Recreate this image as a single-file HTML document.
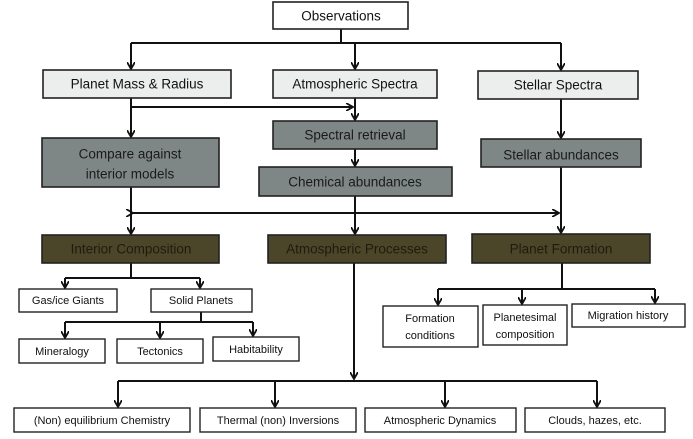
<!DOCTYPE html>
<html><head><meta charset="utf-8"><style>
html,body{margin:0;padding:0;background:#fff;}
svg{display:block;}
text{font-family:"Liberation Sans",sans-serif;text-anchor:middle;dominant-baseline:central;}
</style></head><body>
<svg width="693" height="439" viewBox="0 0 693 439" xmlns="http://www.w3.org/2000/svg">
<defs>
<marker id="a" markerWidth="8" markerHeight="8" refX="7" refY="4" orient="auto" markerUnits="userSpaceOnUse">
<path d="M0,0 L7,4 L0,8" fill="none" stroke="#111" stroke-width="1.8"/>
</marker>
</defs>
<g stroke="#111" stroke-width="2" fill="none">
<line x1="341" y1="29" x2="341" y2="43"/>
<path d="M131,43 H561"/>
<line x1="131" y1="43" x2="131" y2="69" marker-end="url(#a)"/>
<line x1="355" y1="43" x2="355" y2="69" marker-end="url(#a)"/>
<line x1="561" y1="43" x2="561" y2="70" marker-end="url(#a)"/>
<line x1="131" y1="98" x2="131" y2="137" marker-end="url(#a)"/>
<line x1="131" y1="107" x2="353" y2="107" marker-end="url(#a)"/>
<line x1="355" y1="98" x2="355" y2="120" marker-end="url(#a)"/>
<line x1="355" y1="149" x2="355" y2="166" marker-end="url(#a)"/>
<line x1="561" y1="99" x2="561" y2="138" marker-end="url(#a)"/>
<line x1="133" y1="213" x2="559" y2="213" marker-start="url(#a)" marker-end="url(#a)"/>
<line x1="131" y1="187" x2="131" y2="234" marker-end="url(#a)"/>
<line x1="355" y1="196" x2="355" y2="234" marker-end="url(#a)"/>
<line x1="561" y1="167" x2="561" y2="233" marker-end="url(#a)"/>
<line x1="131" y1="263" x2="131" y2="278"/>
<path d="M65,278 H200"/>
<line x1="65" y1="278" x2="65" y2="288" marker-end="url(#a)"/>
<line x1="200" y1="278" x2="200" y2="288" marker-end="url(#a)"/>
<line x1="201" y1="312" x2="201" y2="322"/>
<path d="M65,322 H253"/>
<line x1="65" y1="322" x2="65" y2="338" marker-end="url(#a)"/>
<line x1="160" y1="322" x2="160" y2="338" marker-end="url(#a)"/>
<line x1="253" y1="322" x2="253" y2="336" marker-end="url(#a)"/>
<line x1="562" y1="263" x2="562" y2="289"/>
<path d="M438,289 H655"/>
<line x1="438" y1="289" x2="438" y2="305" marker-end="url(#a)"/>
<line x1="522" y1="289" x2="522" y2="304" marker-end="url(#a)"/>
<line x1="655" y1="289" x2="655" y2="303" marker-end="url(#a)"/>
<line x1="354" y1="263" x2="354" y2="379" marker-end="url(#a)"/>
<path d="M118,381 H597"/>
<line x1="118" y1="381" x2="118" y2="407" marker-end="url(#a)"/>
<line x1="275" y1="381" x2="275" y2="407" marker-end="url(#a)"/>
<line x1="445" y1="381" x2="445" y2="407" marker-end="url(#a)"/>
<line x1="597" y1="381" x2="597" y2="407" marker-end="url(#a)"/>
</g>
<g stroke="#222" stroke-width="1.6">
<rect x="273" y="2" width="135" height="27" fill="#fff"/>
<rect x="43" y="70" width="188" height="28" fill="#eceeee"/>
<rect x="273" y="70" width="164" height="28" fill="#eceeee"/>
<rect x="478" y="71" width="160" height="28" fill="#eceeee"/>
<rect x="273" y="121" width="164" height="28" fill="#7f8786"/>
<rect x="42" y="138" width="177" height="49" fill="#7f8786"/>
<rect x="259" y="167" width="193" height="29" fill="#7f8786"/>
<rect x="481" y="139" width="160" height="28" fill="#7f8786"/>
<rect x="42" y="235" width="177" height="28" fill="#4b4529"/>
<rect x="268" y="235" width="178" height="28" fill="#4b4529"/>
<rect x="472" y="234" width="178" height="29" fill="#4b4529"/>
</g>
<g stroke="#222" stroke-width="1.4" fill="#fff">
<rect x="19" y="289" width="98" height="23"/>
<rect x="151" y="289" width="101" height="23"/>
<rect x="19" y="339" width="86" height="24"/>
<rect x="117" y="339" width="86" height="24"/>
<rect x="213" y="337" width="86" height="24"/>
<rect x="383" y="306" width="95" height="41"/>
<rect x="483" y="305" width="84" height="40"/>
<rect x="572" y="304" width="113" height="23"/>
<rect x="14" y="408" width="176" height="24"/>
<rect x="200" y="408" width="156" height="24"/>
<rect x="365" y="408" width="151" height="24"/>
<rect x="525" y="408" width="140" height="24"/>
</g>
<g font-size="13.5" fill="#111">
<text x="341" y="16">Observations</text>
<text x="137" y="84">Planet Mass &amp; Radius</text>
<text x="355" y="84">Atmospheric Spectra</text>
<text x="558" y="85">Stellar Spectra</text>
<text x="355" y="135" fill="#1a1a1a">Spectral retrieval</text>
<text x="130" y="154" fill="#1a1a1a">Compare against</text>
<text x="130" y="174" fill="#1a1a1a">interior models</text>
<text x="355" y="182" fill="#1a1a1a">Chemical abundances</text>
<text x="561" y="155" fill="#1a1a1a">Stellar abundances</text>
<text x="131" y="249" fill="#1e1c0c">Interior Composition</text>
<text x="357" y="249" fill="#1e1c0c">Atmospheric Processes</text>
<text x="561" y="249" fill="#1e1c0c">Planet Formation</text>
</g>
<g font-size="11" fill="#111">
<text x="68" y="301">Gas/ice Giants</text>
<text x="201" y="301">Solid Planets</text>
<text x="62" y="352">Mineralogy</text>
<text x="160" y="352">Tectonics</text>
<text x="256" y="350">Habitability</text>
<text x="430" y="319">Formation</text>
<text x="430" y="336">conditions</text>
<text x="525" y="318">Planetesimal</text>
<text x="525" y="335">composition</text>
<text x="628" y="316">Migration history</text>
<text x="102" y="421">(Non) equilibrium Chemistry</text>
<text x="278" y="421">Thermal (non) Inversions</text>
<text x="440" y="421">Atmospheric Dynamics</text>
<text x="595" y="421">Clouds, hazes, etc.</text>
</g>
</svg>
</body></html>
